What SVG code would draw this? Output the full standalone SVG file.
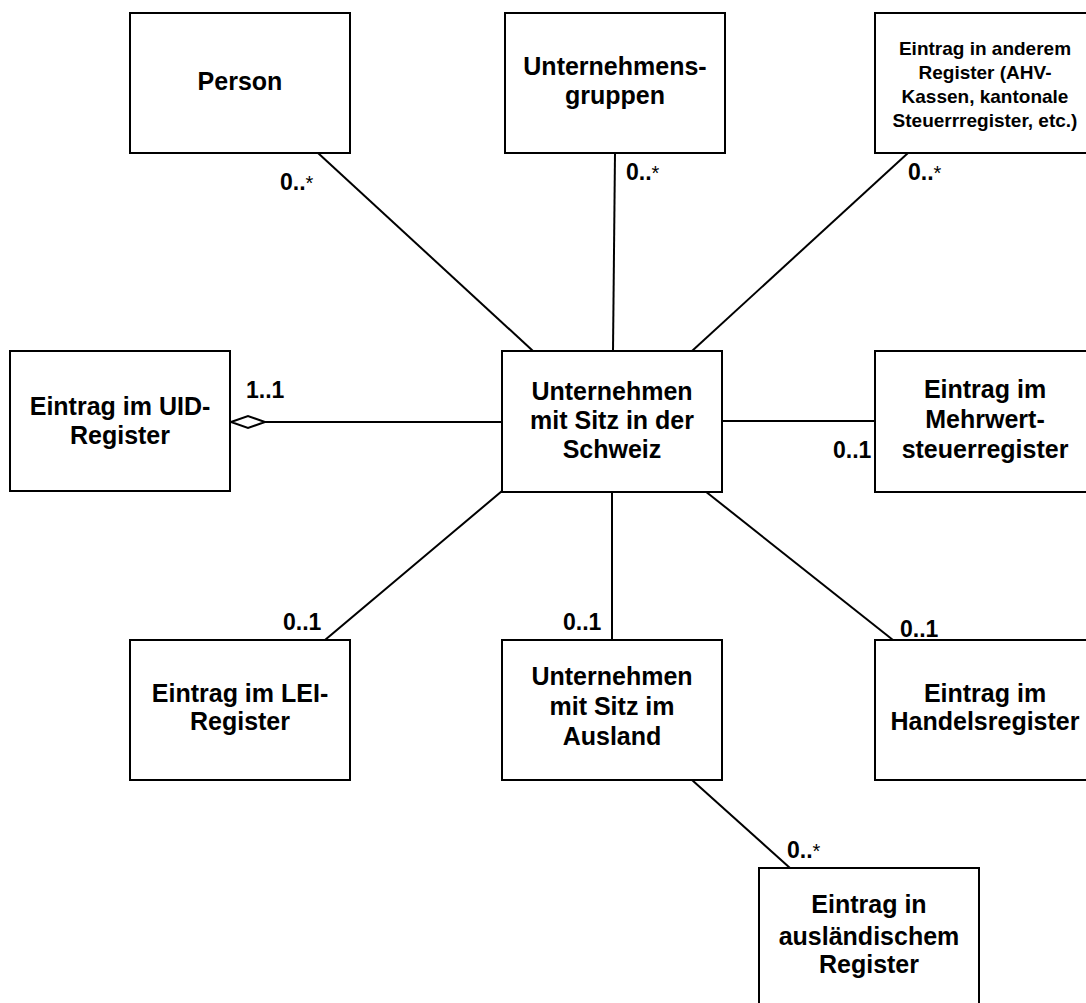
<svg xmlns="http://www.w3.org/2000/svg" width="1086" height="1003" viewBox="0 0 1086 1003">
<style>
.box{fill:#fff;stroke:#000;stroke-width:2}
.t{font-family:"Liberation Sans",Arial,sans-serif;font-weight:bold;font-size:25px;fill:#000;text-anchor:middle}
.s{font-size:19px}
.lbl{font-family:"Liberation Sans",Arial,sans-serif;font-weight:bold;font-size:23px;fill:#000}
.ast{font-weight:normal;font-size:20px}
.c{stroke:#000;stroke-width:2;fill:none}
</style>
<rect width="1086" height="1003" fill="#fff"/>
<g id="connectors">
<line class="c" x1="318" y1="153" x2="533" y2="351"/>
<line class="c" x1="615" y1="153" x2="613" y2="351"/>
<line class="c" x1="908" y1="153" x2="692" y2="351"/>
<line class="c" x1="265" y1="422" x2="502" y2="422"/>
<polygon class="c" style="fill:#fff" points="231,422 248,416 265,422 248,428"/>
<line class="c" x1="722" y1="421" x2="875" y2="421"/>
<line class="c" x1="502" y1="491" x2="325" y2="640"/>
<line class="c" x1="612" y1="491" x2="612" y2="640"/>
<line class="c" x1="705" y1="491" x2="893" y2="640"/>
<line class="c" x1="692" y1="780" x2="790" y2="868"/>
<text class="lbl" x="280" y="190">0..<tspan class="ast">*</tspan></text>
<text class="lbl" x="626" y="180">0..<tspan class="ast">*</tspan></text>
<text class="lbl" x="908" y="180">0..<tspan class="ast">*</tspan></text>
<text class="lbl" x="246" y="398">1..1</text>
<text class="lbl" x="833" y="458">0..1</text>
<text class="lbl" x="283" y="630">0..1</text>
<text class="lbl" x="563" y="630">0..1</text>
<text class="lbl" x="900" y="637">0..1</text>
<text class="lbl" x="787" y="858">0..<tspan class="ast">*</tspan></text>
</g>
<g id="person">
<rect class="box" x="130" y="13" width="220" height="140"/>
<text class="t" x="240" y="90">Person</text>
</g>
<g id="gruppen">
<rect class="box" x="505" y="13" width="220" height="140"/>
<text class="t" x="615" y="75">Unternehmens-</text>
<text class="t" x="615" y="104">gruppen</text>
</g>
<g id="anderes">
<rect class="box" x="875" y="13" width="220" height="140"/>
<text class="t s" x="985" y="55">Eintrag in anderem</text>
<text class="t s" x="985" y="79">Register (AHV-</text>
<text class="t s" x="985" y="103">Kassen, kantonale</text>
<text class="t s" x="985" y="127">Steuerrregister, etc.)</text>
</g>
<g id="uid">
<rect class="box" x="10" y="351" width="220" height="140"/>
<text class="t" x="120" y="415">Eintrag im UID-</text>
<text class="t" x="120" y="444">Register</text>
</g>
<g id="schweiz">
<rect class="box" x="502" y="351" width="220" height="141"/>
<text class="t" x="612" y="400">Unternehmen</text>
<text class="t" x="612" y="429">mit Sitz in der</text>
<text class="t" x="612" y="458">Schweiz</text>
</g>
<g id="mwst">
<rect class="box" x="875" y="351" width="220" height="141"/>
<text class="t" x="985" y="398">Eintrag im</text>
<text class="t" x="985" y="428">Mehrwert-</text>
<text class="t" x="985" y="458">steuerregister</text>
</g>
<g id="lei">
<rect class="box" x="130" y="640" width="220" height="140"/>
<text class="t" x="240" y="702">Eintrag im LEI-</text>
<text class="t" x="240" y="730">Register</text>
</g>
<g id="ausland">
<rect class="box" x="502" y="640" width="220" height="140"/>
<text class="t" x="612" y="685">Unternehmen</text>
<text class="t" x="612" y="715">mit Sitz im</text>
<text class="t" x="612" y="745">Ausland</text>
</g>
<g id="handels">
<rect class="box" x="875" y="640" width="220" height="140"/>
<text class="t" x="985" y="702">Eintrag im</text>
<text class="t" x="985" y="730">Handelsregister</text>
</g>
<g id="auslaendisch">
<rect class="box" x="759" y="868" width="220" height="140"/>
<text class="t" x="869" y="913">Eintrag in</text>
<text class="t" x="869" y="945">ausländischem</text>
<text class="t" x="869" y="973">Register</text>
</g>
</svg>
